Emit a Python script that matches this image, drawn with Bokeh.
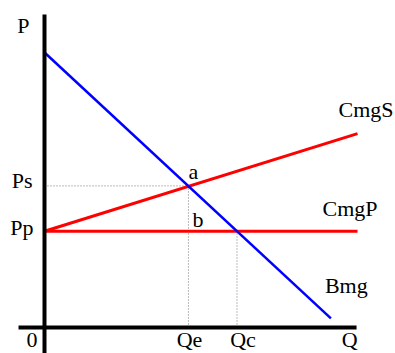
from bokeh.plotting import figure
from bokeh.models import Range1d, Label
from bokeh.embed import file_html
from bokeh.resources import INLINE

# --- data (economic model, arbitrary units) ---
Q_e = 4.6
Q_c = 6.15
P_p = 3.5
P_s = 5.15
bmg_q = [0.0, 9.15]
bmg_p = [10.0, 0.33]
cmgs_q = [0.0, 10.0]
cmgs_p = [3.5, 7.05]
cmgp_q = [0.0, 10.0]
cmgp_p = [3.5, 3.5]
q_axis_extent = [-0.83, 9.97]
p_axis_extent = [-0.95, 11.38]

FONT = "Liberation Serif"
FS = "22px"

p = figure(width=395, height=353, output_backend="svg", toolbar_location=None,
           x_axis_type=None, y_axis_type=None, min_border=0,
           x_range=Range1d(-1.4058, 11.214), y_range=Range1d(-0.9455, 11.891))
p.outline_line_color = None
p.xgrid.visible = False
p.ygrid.visible = False
p.background_fill_color = "white"

# dotted guides
p.line([0, Q_e], [P_s, P_s], line_color="#777777", line_width=1, line_dash="1 2")
p.line([Q_e, Q_e], [0, P_s], line_color="#777777", line_width=1, line_dash="1 2")
p.line([Q_c, Q_c], [0, P_p], line_color="#777777", line_width=1, line_dash="1 2")

# curves
p.line(cmgp_q, cmgp_p, line_color="#ff0000", line_width=3)
p.line(cmgs_q, cmgs_p, line_color="#ff0000", line_width=3)
p.line(bmg_q, bmg_p, line_color="#0000ff", line_width=2.5)

# axes
p.line(q_axis_extent, [0, 0], line_color="black", line_width=4)
p.line([0, 0], p_axis_extent, line_color="black", line_width=4)

def lab(x, y, t, align, dx, dy):
    p.add_layout(Label(x=x, y=y, text=t, text_align=align, text_baseline="alphabetic",
                       x_offset=dx, y_offset=dy, text_font=FONT, text_font_size=FS,
                       text_color="black"))

SH = 9
lab(0, p_axis_extent[1], "P", "right", -15, -20 + SH)
lab(0, P_s, "Ps", "right", -12, -4 + SH)
lab(0, P_p, "Pp", "right", -11, -5 + SH)
lab(0, 0, "0", "right", -7, -22 + SH)
lab(Q_e, 0, "Qe", "center", 1, -21 + SH)
lab(Q_c, 0, "Qc", "center", 6, -21 + SH)
lab(q_axis_extent[1], 0, "Q", "right", 1, -21 + SH)
lab(Q_e, P_s, "a", "left", 0, 5 + SH)
lab(Q_e, P_p, "b", "left", 4, 3 + SH)
lab(cmgs_q[1], cmgs_p[1], "CmgS", "left", -19, 15 + SH)
lab(cmgp_q[1], cmgp_p[1], "CmgP", "left", -35, 14 + SH)
lab(bmg_q[1], bmg_p[1], "Bmg", "left", -6, 24 + SH)

open("out.html", "w").write(file_html(p, INLINE))
